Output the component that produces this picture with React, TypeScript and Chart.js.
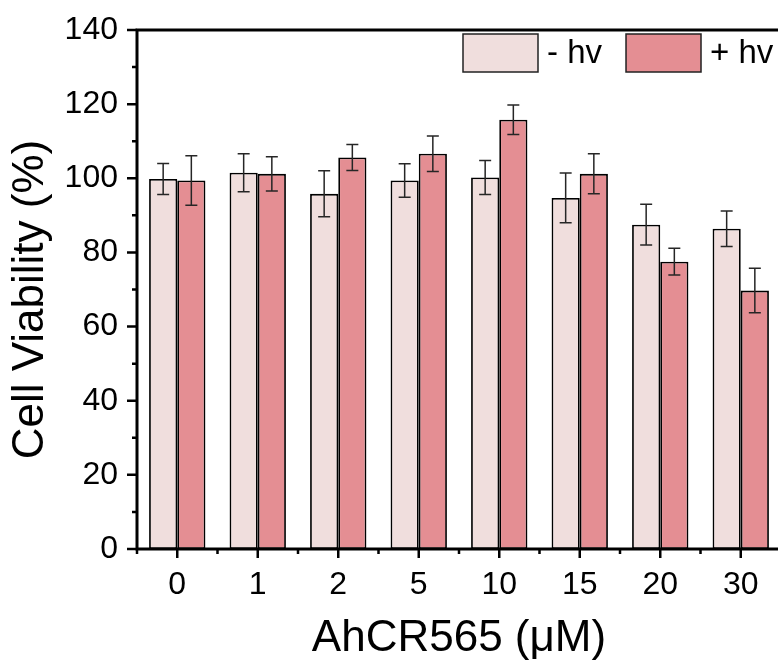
import React, { useEffect, useRef } from "react";
import { Chart, registerables } from "chart.js";

Chart.register(...registerables);

const categories = ["0", "1", "2", "5", "10", "15", "20", "30"];
const seriesLabels = ["- hv", "+ hv"];
const minusHv = [99.8, 101.5, 95.8, 99.4, 100.2, 94.7, 87.5, 86.4];
const minusHvErr = [4.2, 5.1, 6.2, 4.5, 4.6, 6.7, 5.5, 4.8];
const plusHv = [99.4, 101.2, 105.6, 106.6, 115.8, 101.2, 77.5, 69.7];
const plusHvErr = [6.7, 4.6, 3.5, 4.8, 4.0, 5.4, 3.6, 6.0];
const xTitle = "AhCR565 (μM)";
const yTitle = "Cell Viability (%)";
const yMin = 0;
const yMax = 140;
const yMajorStep = 20;
const yMinorStep = 10;

const FONT = '"Liberation Sans", Arial, Helvetica, sans-serif';

const errorBarPlugin = {
  id: "errorBars",
  afterDatasetsDraw(chart: any) {
    const { ctx } = chart;
    const y = chart.scales.y;
    ctx.save();
    ctx.strokeStyle = "#262626";
    ctx.lineWidth = 1.5;
    chart.data.datasets.forEach((d: any, di: number) => {
      const meta = chart.getDatasetMeta(di);
      meta.data.forEach((el: any, i: number) => {
        const v = d.data[i];
        const e = d.errors[i];
        const yt = y.getPixelForValue(v + e);
        const yb = y.getPixelForValue(v - e);
        const cx = el.x;
        const cap = 6;
        ctx.beginPath();
        ctx.moveTo(cx, yt);
        ctx.lineTo(cx, yb);
        ctx.moveTo(cx - cap, yt);
        ctx.lineTo(cx + cap, yt);
        ctx.moveTo(cx - cap, yb);
        ctx.lineTo(cx + cap, yb);
        ctx.stroke();
      });
    });
    ctx.restore();
  },
};

const framePlugin = {
  id: "frame",
  afterDraw(chart: any) {
    const { ctx, chartArea: ca } = chart;
    const x = chart.scales.x;
    const y = chart.scales.y;
    ctx.save();
    ctx.strokeStyle = "#000";
    ctx.lineWidth = 2.5;
    ctx.beginPath();
    for (let v = yMin; v <= yMax; v += yMinorStep) {
      const py = y.getPixelForValue(v);
      const len = v % yMajorStep === 0 ? 10 : 5;
      ctx.moveTo(ca.left - len, py);
      ctx.lineTo(ca.left, py);
    }
    const n = chart.data.labels.length;
    for (let i = 0; i < n; i++) {
      const px = x.getPixelForValue(i);
      ctx.moveTo(px, ca.bottom);
      ctx.lineTo(px, ca.bottom + 9);
    }
    for (let i = 0; i <= n; i++) {
      const px = x.getPixelForValue(i - 0.5);
      ctx.moveTo(px, ca.bottom);
      ctx.lineTo(px, ca.bottom + 5);
    }
    ctx.stroke();
    ctx.lineWidth = 3;
    ctx.strokeRect(ca.left, ca.top, ca.right - ca.left, ca.bottom - ca.top);

    // y axis title
    ctx.fillStyle = "#000";
    ctx.font = `44px ${FONT}`;
    ctx.textAlign = "center";
    ctx.textBaseline = "middle";
    ctx.translate(31, (ca.top + ca.bottom) / 2 + 10);
    ctx.rotate(-Math.PI / 2);
    ctx.fillText(yTitle, 0, 0);
    ctx.restore();
  },
};

const legendPlugin = {
  id: "boxLegend",
  afterDraw(chart: any) {
    const { ctx, chartArea: ca } = chart;
    ctx.save();
    ctx.font = `33px ${FONT}`;
    ctx.textBaseline = "middle";
    ctx.textAlign = "left";
    let bx = ca.left + 326;
    const by = ca.top + 4;
    const bw = 75;
    const bh = 38;
    chart.data.datasets.forEach((d: any) => {
      ctx.fillStyle = d.backgroundColor;
      ctx.fillRect(bx, by, bw, bh);
      ctx.strokeStyle = "#222";
      ctx.lineWidth = 1.5;
      ctx.strokeRect(bx, by, bw, bh);
      ctx.fillStyle = "#000";
      const tx = bx + bw + 9;
      ctx.fillText(d.label, tx, by + bh / 2 + 1);
      bx = tx + ctx.measureText(d.label).width + 24;
    });
    ctx.restore();
  },
};

export default function App() {
  const ref = useRef<HTMLCanvasElement | null>(null);

  useEffect(() => {
    if (!ref.current) return;
    Chart.defaults.font.family = FONT;
    const chart = new Chart(ref.current, {
      type: "bar",
      data: {
        labels: categories,
        datasets: [
          {
            label: seriesLabels[0],
            data: minusHv,
            errors: minusHvErr,
            backgroundColor: "#F0DEDD",
            borderColor: "#000",
            borderWidth: 1.8,
            borderSkipped: false,
            categoryPercentage: 0.7,
            barPercentage: 1.0,
          } as any,
          {
            label: seriesLabels[1],
            data: plusHv,
            errors: plusHvErr,
            backgroundColor: "#E48E93",
            borderColor: "#000",
            borderWidth: 1.8,
            borderSkipped: false,
            categoryPercentage: 0.7,
            barPercentage: 1.0,
          } as any,
        ],
      },
      options: {
        responsive: false,
        animation: false,
        layout: { padding: { top: 30, right: 9, left: 0, bottom: 0 } },
        plugins: {
          legend: { display: false },
          tooltip: { enabled: false },
        },
        scales: {
          x: {
            grid: { display: false, drawTicks: false },
            border: { display: false },
            ticks: {
              color: "#000",
              font: { size: 32 },
              padding: 17,
              maxRotation: 0,
              autoSkip: false,
            },
            title: {
              display: true,
              text: xTitle,
              color: "#000",
              font: { size: 44 },
              padding: { top: 0, bottom: 1 },
            },
            afterFit: (s: any) => {
              s.height = 117;
              s.paddingLeft = 0;
              s.paddingRight = 0;
            },
          },
          y: {
            min: yMin,
            max: yMax,
            grid: { display: false, drawTicks: false },
            border: { display: false },
            ticks: {
              stepSize: yMajorStep,
              color: "#000",
              font: { size: 32 },
              padding: 19,
            },
            afterFit: (s: any) => {
              s.width = 137;
              s.paddingTop = 0;
              s.paddingBottom = 0;
            },
          },
        },
      },
      plugins: [errorBarPlugin, framePlugin, legendPlugin],
    });
    return () => chart.destroy();
  }, []);

  return (
    <div
      style={{
        position: "fixed",
        left: 0,
        top: 0,
        width: 778,
        height: 666,
        overflow: "hidden",
        background: "#fff",
      }}
    >
      <canvas ref={ref} width={790} height={666} style={{ display: "block" }} />
    </div>
  );
}
